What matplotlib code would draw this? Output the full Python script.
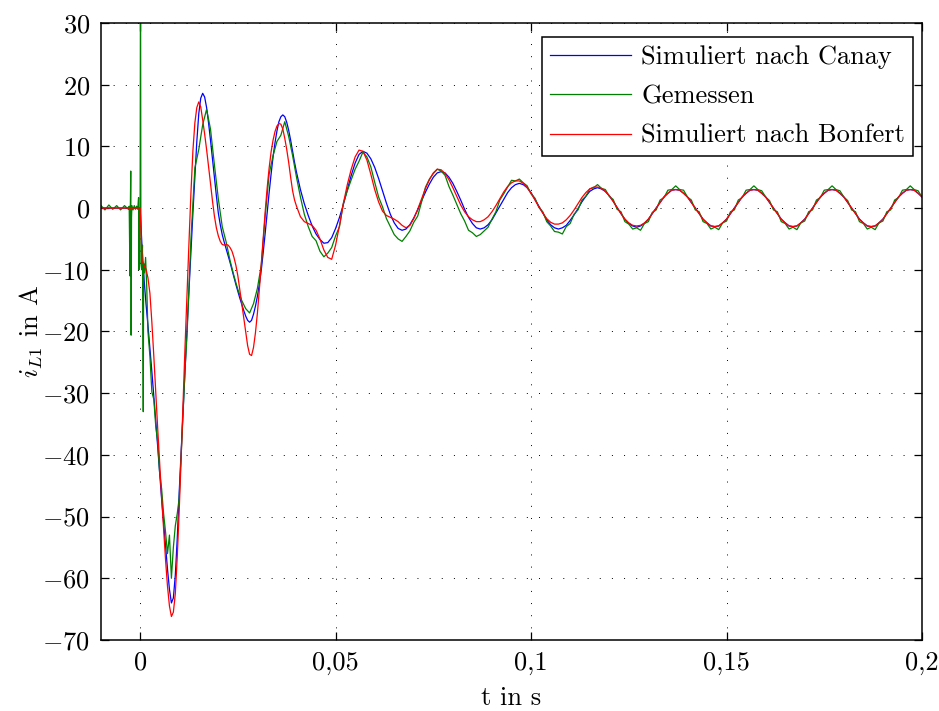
import numpy as np
import matplotlib
matplotlib.use("Agg")
import matplotlib.pyplot as plt

# Schriften: Computer Modern wie im Original (LaTeX-Look)
plt.rcParams['font.family'] = 'serif'
plt.rcParams['font.serif'] = ['cmr10']
plt.rcParams['mathtext.fontset'] = 'cm'
plt.rcParams['axes.unicode_minus'] = False

# ---------------- data ----------------
# time grid of the simulations: 1 ms before 0, 0.5 ms in the transient, 1 ms after 0.04 s
t_sim = np.round(np.concatenate([np.arange(-10, 0) * 0.001,
                                 np.arange(0, 81) * 0.0005,
                                 np.arange(41, 201) * 0.001]), 4)

# Simuliert nach Canay
canay_pre = [0, 0, 0, 0, 0, 0, 0, 0, 0, 0]                        # -0.010 .. -0.001
canay_trans = [                                                    # 0.0000 .. 0.0400, 0.5 ms
    0, -6.5, -11.5, -15.5, -19, -22.7, -26.5, -30.5, -34.5, -38.8,
    -43, -47.2, -51, -55, -58.5, -61.8, -64.0, -63.2, -59.5, -53.5,
    -46, -39.3, -32.5, -26, -19.5, -13.2, -7, -0.8, 5, 10.8,
    15.3, 17.8, 18.6, 18.0, 16.3, 13.8, 11, 8, 5, 2,
    -0.8, -2.7, -4.3, -5.5, -6.6, -7.7, -8.8, -10, -11.2, -12.4,
    -13.5, -14.6, -15.6, -16.6, -17.5, -18.2, -18.5, -18.2, -17.2, -15.9,
    -14.3, -12.3, -10, -7.1, -4, -0.7, 2.5, 5.5, 8.3, 10.6,
    12.5, 14, 14.8, 15.1, 14.8, 13.9, 12.6, 11, 9.2, 7.4,
    5.8,
]
canay_post = [                                                     # 0.041 .. 0.200, 1 ms
    3, 0.7, -1.2, -2.9, -4.2, -5.1, -5.7, -5.6, -4.8, -3.3,
    -1.5, 0.6, 3, 5.3, 7.3, 8.7, 9.2, 8.9, 8.0, 6.6,
    4.8, 2.8, 0.8, -1.0, -2.4, -3.3, -3.6, -3.4, -2.7, -1.6,
    -0.3, 1.2, 2.6, 3.9, 5.0, 5.7, 5.9, 5.7, 5.0, 4.0,
    2.7, 1.3, -0.2, -1.5, -2.5, -3.2, -3.4, -3.2, -2.7, -1.9,
    -0.8, 0.3, 1.4, 2.5, 3.3, 3.8, 4.0, 3.8, 3.3, 2.5,
    1.4, 0.3, -0.8, -1.9, -2.7, -3.2, -3.4, -3.2, -2.8, -2.0,
    -1.1, -0.1, 1.0, 1.9, 2.7, 3.1, 3.3, 3.1, 2.7, 2.0,
    1.1, 0.1, -0.9, -1.8, -2.5, -2.9, -3.1, -2.9, -2.5, -1.8,
    -0.9, 0.0, 0.9, 1.8, 2.4, 2.9, 3.0, 2.9, 2.4, 1.8,
    0.9, 0.0, -0.9, -1.8, -2.4, -2.9, -3.0, -2.9, -2.4, -1.8,
    -0.9, 0.0, 0.9, 1.8, 2.4, 2.9, 3.0, 2.9, 2.4, 1.8,
    0.9, 0.0, -0.9, -1.8, -2.4, -2.9, -3.0, -2.9, -2.4, -1.8,
    -0.9, 0.0, 0.9, 1.8, 2.4, 2.9, 3.0, 2.9, 2.4, 1.8,
    0.9, 0.0, -0.9, -1.8, -2.4, -2.9, -3.0, -2.9, -2.4, -1.8,
    -0.9, 0.0, 0.9, 1.8, 2.4, 2.9, 3.0, 2.9, 2.4, 1.8,
]

# Simuliert nach Bonfert
bonfert_pre = [0, 0, 0, 0, 0, 0, 0, 0, 0, 0]
bonfert_trans = [
    0, -8.5, -9.3, -9.9, -11.3, -13.8, -18.5, -24, -30, -35.8,
    -41.5, -46.9, -52, -57, -61.3, -64.5, -66.2, -65.5, -62.5, -56.5,
    -49, -40.3, -31, -22.2, -13.8, -5.5, 2.5, 9.3, 13.8, 16.3,
    17.2, 16.4, 14.3, 12, 9.5, 6.8, 4, 1.2, -1.3, -3.2,
    -4.5, -5.4, -5.9, -6.0, -5.9, -6.0, -6.4, -7.0, -8.0, -9.3,
    -11, -13.2, -15.5, -17.8, -20.2, -22.3, -23.7, -23.9, -22.6, -20.2,
    -17, -13.2, -9, -4.7, -0.5, 3.3, 6.5, 9.1, 11, 12.4,
    13.3, 13.7, 13.6, 12.8, 11.3, 9.5, 7.4, 5.0, 2.8, 1.3,
    0.3,
]
bonfert_post = [
    -1.4, -2.2, -2.5, -2.8, -3.6, -5.0, -6.8, -8.0, -8.3, -6.0,
    -2.8, 0.8, 3.8, 6.3, 8.3, 9.4, 9.2, 7.8, 5.5, 3.0,
    1.0, -0.5, -1.2, -1.5, -1.8, -2.2, -2.8, -3.2, -2.8, -1.7,
    -0.2, 1.5, 3.2, 4.6, 5.7, 6.3, 6.2, 5.6, 4.6, 3.3,
    1.9, 0.5, -0.6, -1.4, -1.9, -2.2, -2.2, -1.9, -1.4, -0.6,
    0.4, 1.5, 2.6, 3.5, 4.1, 4.4, 4.4, 4.0, 3.3, 2.4,
    1.3, 0.2, -0.8, -1.7, -2.3, -2.6, -2.6, -2.4, -1.9, -1.2,
    -0.3, 0.7, 1.7, 2.5, 3.1, 3.4, 3.4, 3.2, 2.7, 2.0,
    1.1, 0.1, -0.9, -1.8, -2.4, -2.8, -2.9, -2.8, -2.4, -1.8,
    -0.9, 0.0, 0.9, 1.8, 2.4, 2.9, 3.0, 2.9, 2.4, 1.8,
    0.9, 0.0, -0.9, -1.8, -2.4, -2.9, -3.0, -2.9, -2.4, -1.8,
    -0.9, 0.0, 0.9, 1.8, 2.4, 2.9, 3.0, 2.9, 2.4, 1.8,
    0.9, 0.0, -0.9, -1.8, -2.4, -2.9, -3.0, -2.9, -2.4, -1.8,
    -0.9, 0.0, 0.9, 1.8, 2.4, 2.9, 3.0, 2.9, 2.4, 1.8,
    0.9, 0.0, -0.9, -1.8, -2.4, -2.9, -3.0, -2.9, -2.4, -1.8,
    -0.9, 0.0, 0.9, 1.8, 2.4, 2.9, 3.0, 2.9, 2.4, 1.8,
]

# Gemessen: before switching, spikes around t=0, transient trough, rest
meas_pre_t = np.round(np.arange(-10, -2) * 0.001, 3)
meas_pre = [0.4, -0.3, 0.5, -0.2, 0.4, -0.3, 0.4, -0.2]

meas_spike_t = [-0.0028, -0.0026, -0.0025, -0.0024, -0.0023, -0.0022, -0.0021,
                -0.0018, -0.0015, -0.0012, -0.0009, -0.0006, -0.0004, -0.0003,
                -0.0002, 0.0, 0.0001, 0.0002, 0.0004, 0.0006, 0.0008, 0.0009,
                0.0011, 0.0014, 0.0017]
meas_spike = [0.3, -11, 0.2, 6, -20.6, -1.5, 0.4,
              -0.3, 0.4, -0.2, 0.3, -0.2, 1.7, -10,
              -1, 0, 45, -9, -10, -6, -33, -9,
              -10.5, -8, -13]

meas_mid_t = np.round(np.arange(4, 25) * 0.0005, 4)                # 0.0020 .. 0.0120
meas_mid = [-20, -24, -29.8, -31, -35.4, -38, -43, -45.5, -49.5, -52.5,
            -56, -53, -60, -55, -51.5, -49.5, -47, -40, -33, -26,
            -20.5]

meas_post_t = np.round(np.arange(13, 201) * 0.001, 3)              # 0.013 .. 0.200
meas_post = [
    -5, 6.5, 9.5, 13.5, 16, 12.8, 7, 1.5,                          # 0.013 .. 0.020
    -3, -5.5, -8.5, -11, -13.2, -15, -16.3, -17, -15.5, -13,
    -9.2, -1.2, 5.5, 8.5, 10.8, 11.8, 14, 11.6, 8.5, 5,
    1.8, -1, -3, -4.6, -5.3, -7, -7.9, -7.3, -6.4, -4.5,
    -3, 0.8, 2.8, 4.6, 6.3, 7.6, 9.1, 8.3, 6.7, 4.2,
    1.8, 0.2, -1.7, -3, -4.3, -5, -5.4, -4.6, -3.7, -2.3,
    -1.3, 1, 3.4, 4.7, 5.6, 6.3, 6.0, 5.3, 3.5, 2.1,
    0.6, -0.9, -2.1, -3.6, -4, -4.6, -4.3, -3.7, -3.1, -1.8,
    -0.6, 1.3, 2.3, 3.4, 4.5, 4.4, 4.7, 4.1, 3.6, 2.3,
    1.6, 0.1, -0.6, -2.2, -2.9, -3.8, -3.9, -4.2, -3.0, -2.5,
    -1.0, -0.3, 1.3, 1.9, 3.1, 3.3, 3.8, 3.2, 3.0, 1.9,
    1.4, -0.2, -0.6, -2.2, -2.6, -3.4, -3.2, -3.6, -2.5, -2.2,
    -0.7, -0.3, 1.3, 1.7, 2.9, 3.0, 3.6, 3.0, 2.9, 1.8,
    1.3, -0.3, -0.6, -2.2, -2.5, -3.4, -3.1, -3.5, -2.4, -2.1,
    -0.6, -0.3, 1.3, 1.7, 2.9, 3.0, 3.6, 3.0, 2.8, 1.8,
    1.2, -0.3, -0.6, -2.2, -2.5, -3.4, -3.1, -3.5, -2.4, -2.1,
    -0.6, -0.3, 1.3, 1.7, 2.9, 3.0, 3.6, 3.0, 2.8, 1.8,
    1.2, -0.3, -0.6, -2.2, -2.5, -3.4, -3.1, -3.5, -2.4, -2.1,
    -0.6, -0.3, 1.3, 1.7, 2.9, 3.0, 3.6, 3.0, 2.8, 1.8,
]

x_ticks = [0, 0.05, 0.1, 0.15, 0.2]
x_tick_labels = ['0', '0,05', '0,1', '0,15', '0,2']
y_ticks = [-70, -60, -50, -40, -30, -20, -10, 0, 10, 20, 30]
y_tick_labels = ['$-70$', '$-60$', '$-50$', '$-40$', '$-30$', '$-20$',
                 '$-10$', '$0$', '$10$', '$20$', '$30$']

labels = ['Simuliert nach Canay', 'Gemessen', 'Simuliert nach Bonfert']


def main():
    canay = np.concatenate([canay_pre, canay_trans, canay_post])
    bonfert = np.concatenate([bonfert_pre, bonfert_trans, bonfert_post])
    meas_t = np.concatenate([meas_pre_t, meas_spike_t, meas_mid_t, meas_post_t])
    meas = np.concatenate([meas_pre, meas_spike, meas_mid, meas_post])

    fig = plt.figure(figsize=(9.39, 7.11), dpi=100)
    ax = fig.add_axes([0.1076, 0.0999, 0.8743, 0.8678])

    ax.plot(t_sim, canay, color='b', lw=0.9, label=labels[0])
    ax.plot(meas_t, meas, color='g', lw=0.9, label=labels[1])
    ax.plot(t_sim, bonfert, color='r', lw=0.9, label=labels[2])

    ax.set_xlim(-0.01, 0.2)
    ax.set_ylim(-70, 30)
    ax.set_xticks(x_ticks)
    ax.set_xticklabels(x_tick_labels)
    ax.set_yticks(y_ticks)
    ax.set_yticklabels(y_tick_labels)

    ax.tick_params(direction='in', top=True, right=True, length=6,
                   width=0.9, labelsize=19, pad=8)
    for sp in ax.spines.values():
        sp.set_linewidth(1.1)

    ax.grid(True, color='black', lw=0.7, linestyle=(0, (1, 11.5)))

    ax.set_xlabel('t in s', fontsize=19, labelpad=8)
    ax.set_ylabel(r'$i_{L1}$ in A', fontsize=19, labelpad=-2)

    leg = ax.legend(loc='upper right', bbox_to_anchor=(0.989, 0.977),
                    borderaxespad=0, fontsize=19, fancybox=False,
                    edgecolor='black', framealpha=1, handlelength=3.05,
                    handletextpad=0.4, labelspacing=0.6, borderpad=0.3)
    leg.get_frame().set_linewidth(1.1)

    fig.savefig('out.png', dpi=100)


if __name__ == "__main__":
    main()
